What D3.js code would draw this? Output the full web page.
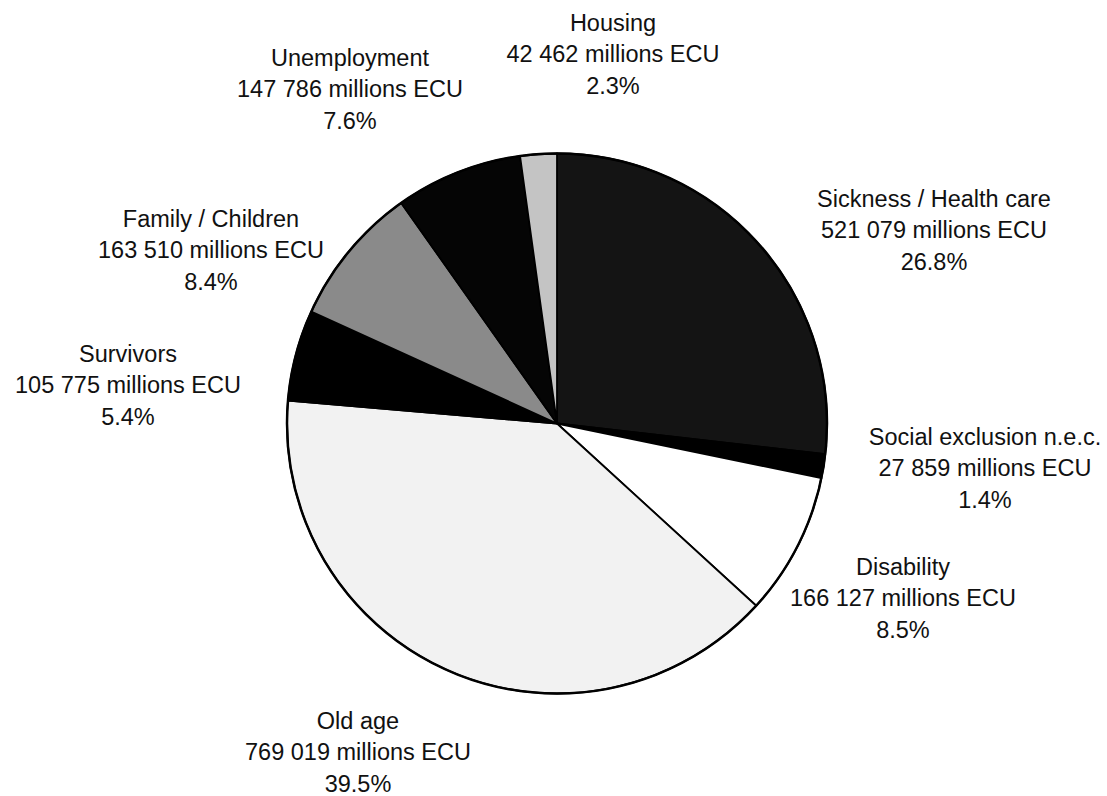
<!DOCTYPE html>
<html>
<head>
<meta charset="utf-8">
<script src="https://cdn.jsdelivr.net/npm/d3@7"></script>
<style>
  html, body { margin: 0; padding: 0; background: #fff; }
  svg text { font-family: "Liberation Sans", Arial, Helvetica, sans-serif; fill: #111; }
</style>
</head>
<body>
<svg id="chart" width="1107" height="796"></svg>
<script>
// ---- data ----
const categories = ["Sickness / Health care", "Social exclusion n.e.c.", "Disability", "Old age",
                    "Survivors", "Family / Children", "Unemployment", "Housing"];
const values = [521079, 27859, 166127, 769019, 105775, 163510, 147786, 42462];
const percentLabels = ["26.8%", "1.4%", "8.5%", "39.5%", "5.4%", "8.4%", "7.6%", "2.3%"];

// ---- styling / layout ----
const fills = ["#141414", "#000000", "#ffffff", "#f2f2f2", "#000000", "#8a8a8a", "#050505", "#c4c4c4"];
const labelLayout = [
  {x: 934, y: 207}, {x: 985, y: 445}, {x: 903, y: 575}, {x: 358, y: 729},
  {x: 128, y: 362}, {x: 211, y: 227}, {x: 350, y: 66}, {x: 613, y: 31}
];
const lineGap = 31.3;
const cx = 557, cy = 423.5, radius = 270;

const svg = d3.select("#chart");
const data = categories.map((c, i) => ({name: c, value: values[i], pct: percentLabels[i], i}));

const pie = d3.pie().sort(null).value(d => d.value);
const arc = d3.arc().innerRadius(0).outerRadius(radius);

const g = svg.append("g").attr("transform", `translate(${cx},${cy})`);
g.selectAll("path.slice")
  .data(pie(data))
  .join("path")
  .attr("class", "slice")
  .attr("d", arc)
  .attr("fill", d => fills[d.data.i])
  .attr("stroke", "#000")
  .attr("stroke-width", 1.8)
  .attr("stroke-linejoin", "round");

g.append("circle").attr("r", radius).attr("fill", "none").attr("stroke", "#000").attr("stroke-width", 2.5);

const fmt = d3.formatLocale({decimal: ".", thousands: " ", grouping: [3], currency: ["", ""]}).format(",d");

const labels = svg.append("g").selectAll("text")
  .data(data)
  .join("text")
  .attr("text-anchor", "middle")
  .attr("font-size", "23.5px")
  .attr("x", d => labelLayout[d.i].x)
  .attr("y", d => labelLayout[d.i].y);

labels.each(function(d) {
  const t = d3.select(this);
  const lines = [d.name, fmt(d.value) + " millions ECU", d.pct];
  lines.forEach((s, k) => {
    t.append("tspan").attr("x", labelLayout[d.i].x).attr("y", labelLayout[d.i].y + k * lineGap).text(s);
  });
});
</script>
</body>
</html>
